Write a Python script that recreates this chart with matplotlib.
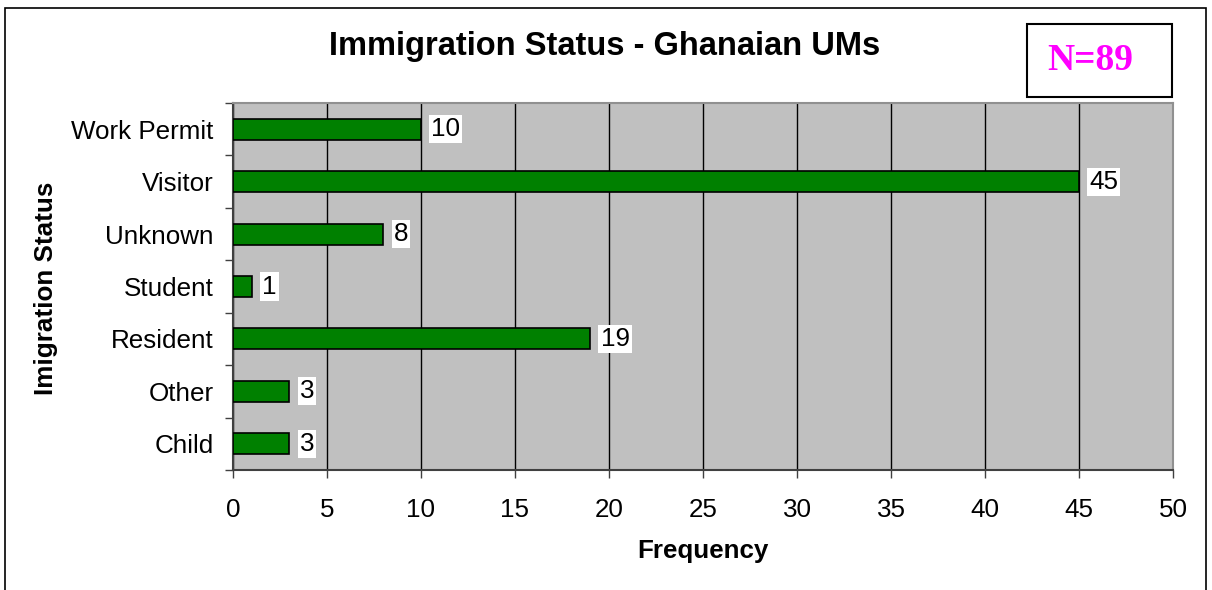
import matplotlib
matplotlib.use('Agg')
import matplotlib.pyplot as plt
from matplotlib.patches import Rectangle
import numpy as np

plt.rcParams['font.family'] = ['Liberation Sans', 'DejaVu Sans']

categories = ['Child', 'Other', 'Resident', 'Student', 'Unknown', 'Visitor', 'Work Permit']
counts = [3, 3, 19, 1, 8, 45, 10]
xticks = [0, 5, 10, 15, 20, 25, 30, 35, 40, 45, 50]

fs = 18.7

fig = plt.figure(figsize=(12.12, 5.9), dpi=100)
fig.patch.set_facecolor('white')

# outer chart border
fig.patches.append(Rectangle((5/1212, -0.02), 1201/1212, 1 - 8/590 + 0.02,
                             transform=fig.transFigure, fill=False,
                             edgecolor='black', linewidth=1.2))

ax = fig.add_axes([233/1212, 1 - 470/590, 940/1212, 367/590])
ax.set_facecolor('#c0c0c0')
y = np.arange(len(categories))
ax.barh(y, counts, height=0.4, color='#008000', edgecolor='black', linewidth=1.2, zorder=3)

for yi, v in zip(y, counts):
    ax.text(v + 0.55, yi, str(v), ha='left', va='center', fontsize=fs, zorder=4,
            bbox=dict(facecolor='white', edgecolor='none', pad=1.5))

ax.set_xlim(0, 50)
ax.set_ylim(-0.5, len(categories) - 0.5)
ax.set_xticks(xticks)
ax.set_yticks(y)
ax.set_yticklabels(categories)
ax.set_yticks(np.arange(-0.5, len(categories), 1), minor=True)
ax.tick_params(axis='y', which='major', length=0, pad=14, labelsize=fs)
ax.tick_params(axis='y', which='minor', length=6, width=1, color='#404040', direction='out')
ax.tick_params(axis='x', length=6, width=1, color='#404040', direction='out', pad=14, labelsize=fs)
ax.grid(axis='x', color='black', linewidth=1, zorder=1)
ax.set_axisbelow(True)
for s in ['left', 'bottom']:
    ax.spines[s].set_color('#404040')
    ax.spines[s].set_linewidth(1.5)
for s in ['top', 'right']:
    ax.spines[s].set_color('#909090')
    ax.spines[s].set_linewidth(1.5)

fig.text(605/1212, 1 - 47/590, 'Immigration Status - Ghanaian UMs', ha='center', va='center',
         fontsize=23.5, fontweight='bold')
fig.text(703/1212, 1 - 551/590, 'Frequency', ha='center', va='center', fontsize=fs, fontweight='bold')
fig.text(46/1212, 1 - 288/590, 'Imigration Status', ha='center', va='center', rotation=90,
         fontsize=fs, fontweight='bold')

# N box
fig.patches.append(Rectangle((1027/1212, 1 - 97/590), 145/1212, 73/590,
                             transform=fig.transFigure, facecolor='white',
                             edgecolor='black', linewidth=1.5))
fig.text(1090/1212, 1 - 60/590, 'N=89', ha='center', va='center', color='#ff00ff',
         fontsize=27, fontweight='bold', family=['Liberation Serif', 'DejaVu Serif'])

fig.savefig('out.png', dpi=100)
